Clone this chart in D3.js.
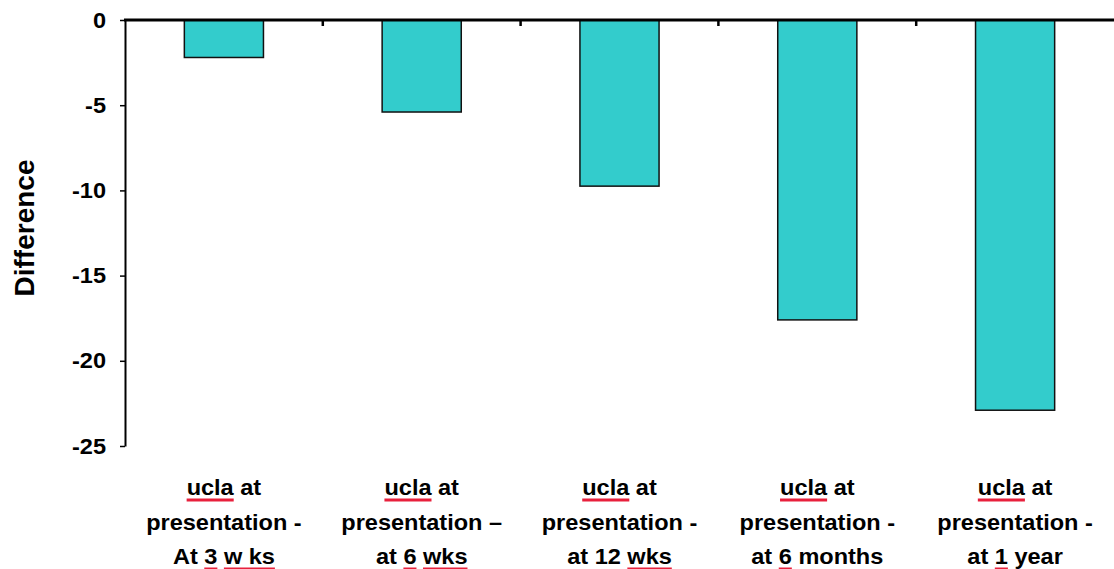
<!DOCTYPE html>
<html>
<head>
<meta charset="utf-8">
<script src="https://cdn.jsdelivr.net/npm/d3@7"></script>
<style>
  body { margin: 0; background: #fff; }
  svg { display: block; font-family: "Liberation Sans", Arial, sans-serif; font-weight: bold; }
</style>
</head>
<body>
<svg width="1114" height="569"></svg>
<script>
var width = 1114, height = 569;

// categories: "\n" splits lines, _word_ marks the red spell-check underline
var categories = [
  "_ucla_ at\npresentation -\nAt _3_ _w ks_",
  "_ucla_ at\npresentation \u2013\nat _6_ _wks_",
  "_ucla_ at\npresentation -\nat 12 _wks_",
  "_ucla_ at\npresentation -\nat _6_ months",
  "_ucla_ at\npresentation -\nat _1_ year"
];
var values = [-2.2, -5.4, -9.75, -17.6, -22.9];
var yTicks = [0, -5, -10, -15, -20, -25];

var margin = {top: 20, left: 125, bottom: 446};
var stretch = 1.07;

var svg = d3.select("svg");

var x = d3.scaleBand()
    .domain(categories)
    .range([margin.left, width])
    .paddingInner(0.6)
    .paddingOuter(0.3);

var y = d3.scaleLinear()
    .domain([0, -25])
    .range([margin.top, margin.bottom]);

// bars
svg.selectAll("rect.bar")
    .data(values)
    .enter()
    .append("rect")
    .attr("class", "bar")
    .attr("x", (d, i) => x(categories[i]))
    .attr("y", y(0))
    .attr("width", x.bandwidth())
    .attr("height", d => y(d) - y(0))
    .attr("fill", "#33CCCC")
    .attr("stroke", "#111")
    .attr("stroke-width", 1.5);

// y axis
var yAxis = svg.append("g")
    .attr("transform", `translate(${margin.left},0)`)
    .call(d3.axisLeft(y).tickValues(yTicks).tickSize(5).tickPadding(14).tickSizeOuter(0)
      .tickFormat(d => String(d)));
yAxis.select(".domain").attr("stroke-width", 2);
yAxis.selectAll(".tick line").attr("stroke-width", 1.5);
yAxis.selectAll(".tick text")
    .attr("font-size", 22)
    .attr("font-weight", "bold")
    .attr("font-family", "Liberation Sans, Arial, sans-serif")
    .attr("fill", "#000")
    .attr("transform", function() {
      var tx = +d3.select(this).attr("x");
      return `translate(${tx},0) scale(${stretch},1) translate(${-tx},0)`;
    });

// zero line with ticks between categories
var zero = svg.append("g");
zero.selectAll("line.sep")
    .data(categories.slice(0, -1))
    .enter()
    .append("line")
    .attr("x1", d => x(d) + x.bandwidth() / 2 + x.step() / 2)
    .attr("x2", d => x(d) + x.bandwidth() / 2 + x.step() / 2)
    .attr("y1", y(0))
    .attr("y2", y(0) + 6)
    .attr("stroke", "#000")
    .attr("stroke-width", 2.5);
zero.append("line")
    .attr("x1", margin.left - 1)
    .attr("x2", width)
    .attr("y1", y(0))
    .attr("y2", y(0))
    .attr("stroke", "#000")
    .attr("stroke-width", 3);

// y title
svg.append("text")
    .attr("transform", `translate(34,228) rotate(-90)`)
    .attr("text-anchor", "middle")
    .attr("font-size", 28)
    .text("Difference");

// category labels
var lineY = [495, 530, 564];
categories.forEach(function(cat) {
  var cx = x(cat) + x.bandwidth() / 2;
  cat.split("\n").forEach(function(line, li) {
    var g = svg.append("g")
        .attr("transform", `translate(${cx},${lineY[li]}) scale(${stretch},1)`);
    var parts = line.split("_");
    var text = g.append("text")
        .attr("text-anchor", "middle")
        .attr("font-size", 22);
    parts.forEach(function(p, pi) {
      if (p.length) text.append("tspan").text(p).datum({u: pi % 2 === 1, t: p});
    });
    // underline marked words
    var node = text.node(), idx = 0;
    text.selectAll("tspan").each(function(d) {
      if (d.u) {
        var x0 = node.getStartPositionOfChar(idx).x;
        var x1 = node.getEndPositionOfChar(idx + d.t.length - 1).x;
        g.append("line")
            .attr("x1", x0).attr("x2", x1)
            .attr("y1", 5).attr("y2", 5)
            .attr("stroke", "#e8203c")
            .attr("stroke-width", 3);
      }
      idx += d.t.length;
    });
  });
});
</script>
</body>
</html>
